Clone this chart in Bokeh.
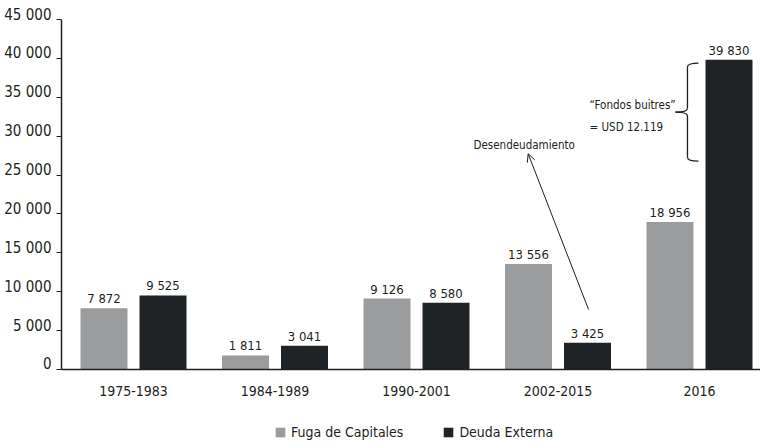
import numpy as np
from bokeh.plotting import figure
from bokeh.layouts import column
from bokeh.models import (ColumnDataSource, FixedTicker, Legend, LegendItem,
                          Arrow, OpenHead, Label, LinearAxis)
from bokeh.core.properties import value
from bokeh.embed import file_html
from bokeh.resources import INLINE

# ---- data ----
categories = ["1975-1983", "1984-1989", "1990-2001", "2002-2015", "2016"]
fuga = [7872, 1811, 9126, 13556, 18956]
deuda = [9525, 3041, 8580, 3425, 39830]
y_ticks = [0, 5000, 10000, 15000, 20000, 25000, 30000, 35000, 40000, 45000]
series_names = ["Fuga de Capitales", "Deuda Externa"]
fondos_buitres = 12119

FONT = "DejaVu Sans Condensed"
GRAY = "#9a9c9d"
DARK = "#1f2326"
TXT = "#231f20"
LABEL_LIFT = 643  # tick labels sit just above their tick (about 5 px)


def fmt(v):
    return f"{v:,}".replace(",", " ")


idx = np.arange(len(categories))
off = 0.2085
bw = 0.332

src_f = ColumnDataSource(dict(x=idx - off, top=fuga, lab=[fmt(v) for v in fuga]))
src_d = ColumnDataSource(dict(x=idx + off, top=deuda, lab=[fmt(v) for v in deuda]))

p = figure(width=760, height=400, output_backend="svg", toolbar_location=None,
           x_range=(-0.5088, 4.4311), y_range=(0, y_ticks[-1] + LABEL_LIFT),
           min_border_left=61, min_border_right=0, min_border_top=14,
           min_border_bottom=31)
p.grid.visible = False
p.outline_line_color = None

rf = p.vbar(x="x", top="top", width=bw, source=src_f, fill_color=GRAY, line_color=None)
rd = p.vbar(x="x", top="top", width=bw, source=src_d, fill_color=DARK, line_color=None)

for s in (src_f, src_d):
    p.text(x="x", y="top", text="lab", source=s, text_align="center",
           text_baseline="bottom", y_offset=-2, text_font=value(FONT),
           text_font_size="13px", text_color=TXT)

# x axis
xa = p.xaxis[0]
xa.ticker = FixedTicker(ticks=list(idx))
xa.major_label_overrides = {int(i): c for i, c in zip(idx, categories)}
xa.major_tick_line_color = None
xa.minor_tick_line_color = None
xa.axis_line_color = TXT
xa.axis_line_width = 1.5
xa.major_label_text_font = FONT
xa.major_label_text_font_size = "14px"
xa.major_label_text_color = TXT
xa.major_label_standoff = 10

# y axis: line + tick marks
ya = p.yaxis[0]
ya.ticker = FixedTicker(ticks=y_ticks)
ya.bounds = (y_ticks[0], y_ticks[-1])
ya.major_label_overrides = {v: "" for v in y_ticks}
ya.major_label_standoff = 0
ya.major_tick_out = 5
ya.major_tick_in = 0
ya.major_tick_line_color = TXT
ya.minor_tick_line_color = None
ya.axis_line_color = TXT
ya.axis_line_width = 1.5

# y axis: tick labels, lifted so they sit on top of their tick
lifted = [v + LABEL_LIFT for v in y_ticks]
yl = LinearAxis(ticker=FixedTicker(ticks=lifted),
                major_label_overrides={lv: fmt(v) for lv, v in zip(lifted, y_ticks)},
                axis_line_color=None, major_tick_line_color=None,
                minor_tick_line_color=None, major_tick_out=0, major_tick_in=0,
                major_label_standoff=5, major_label_text_font=FONT,
                major_label_text_font_size="15px", major_label_text_color=TXT)
p.add_layout(yl, "left")

# annotations
p.add_layout(Arrow(end=OpenHead(size=8, line_width=1, line_color=TXT),
                   x_start=3.216, y_start=7714, x_end=2.789, y_end=27733,
                   line_width=1, line_color=TXT))
p.add_layout(Label(x=2.403, y=28900, text="Desendeudamiento", text_font=FONT,
                   text_font_size="11.5px", text_color=TXT, text_baseline="alphabetic"))
p.add_layout(Label(x=3.223, y=34030, text="\u201cFondos buitres\u201d", text_font=FONT,
                   text_font_size="11.5px", text_color=TXT, text_baseline="alphabetic"))
p.add_layout(Label(x=3.223, y=31200, text="= USD 12.119", text_font=FONT,
                   text_font_size="11.5px", text_color=TXT, text_baseline="alphabetic"))

# curly brace next to the 2016 debt bar
b_top = 39400
b_bot = b_top - fondos_buitres * 1.04
b_mid = (b_top + b_bot) / 2
x_end, x_sp, x_tip = 3.993, 3.915, 3.83
r = 500
bk = dict(line_color=TXT, line_width=1.3)
p.quadratic(x0=[x_end, x_end], y0=[b_top, b_bot], x1=[x_sp, x_sp],
            y1=[b_top - r, b_bot + r], cx=[x_sp, x_sp], cy=[b_top, b_bot], **bk)
p.quadratic(x0=[x_sp, x_sp], y0=[b_mid + r, b_mid - r], x1=[x_tip, x_tip],
            y1=[b_mid, b_mid], cx=[x_sp, x_sp], cy=[b_mid, b_mid], **bk)
p.segment(x0=[x_sp, x_sp], y0=[b_top - r, b_mid - r], x1=[x_sp, x_sp],
          y1=[b_mid + r, b_bot + r], **bk)

# legend strip below the chart
lf = figure(width=760, height=46, output_backend="svg", toolbar_location=None,
            x_range=(0, 1), y_range=(0, 1), min_border=0)
lf.axis.visible = False
lf.grid.visible = False
lf.outline_line_color = None
lg_f = lf.vbar(x=[0.5], top=[0], width=0.01, fill_color=GRAY, line_color=None)
lg_d = lf.vbar(x=[0.5], top=[0], width=0.01, fill_color=DARK, line_color=None)
legend = Legend(items=[LegendItem(label=series_names[0], renderers=[lg_f]),
                       LegendItem(label=series_names[1], renderers=[lg_d])],
                orientation="horizontal", location=(213, 6),
                glyph_width=12, glyph_height=12, label_standoff=5, spacing=39,
                padding=0, margin=0, border_line_color=None,
                background_fill_alpha=0, label_text_font=FONT,
                label_text_font_size="14px", label_text_color=TXT)
lf.add_layout(legend, "center")

open("out.html", "w").write(file_html(column(p, lf, spacing=0), INLINE))
